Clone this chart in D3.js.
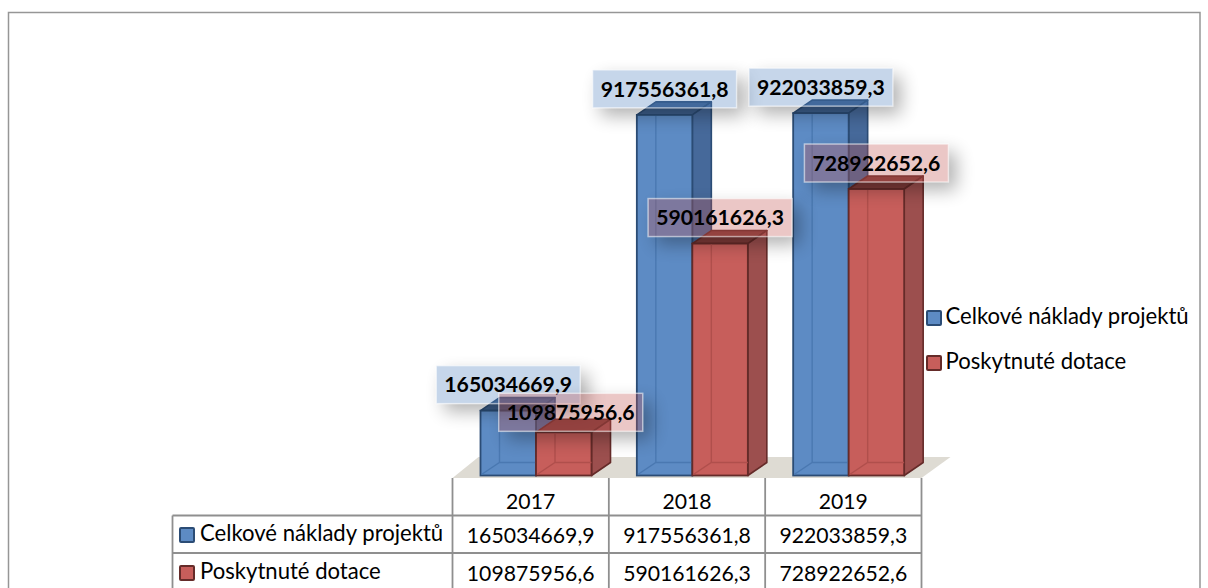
<!DOCTYPE html>
<html><head><meta charset="utf-8">
<script src="https://cdn.jsdelivr.net/npm/d3@7"></script>
<style>html,body{margin:0;padding:0;background:#fff;overflow:hidden}svg{display:block}text{font-family:Lato,"Open Sans",sans-serif;fill:#000}</style>
</head><body><div id="c"></div>
<script>
const categories = ["2017","2018","2019"];
const seriesNames = ["Celkové náklady projektů","Poskytnuté dotace"];
const costs = [165034669.9,917556361.8,922033859.3];
const grants = [109875956.6,590161626.3,728922652.6];
const costLabels = ["165034669,9","917556361,8","922033859,3"];
const grantLabels = ["109875956,6","590161626,3","728922652,6"];

const W=1208,H=588;
const svg=d3.select("#c").append("svg").attr("width",W).attr("height",H);
const numSize=21.2, boldSize=21.2, nameSize=22.1;
const palette=[
 {front:"#5d8bc4",side:"#46699a",top:"#3d5f8c",edge:"#2b4c75",inner:"#4a78b1",box:"rgba(79,129,189,.32)"},
 {front:"#c75e5b",side:"#9c4f4e",top:"#7f3b39",edge:"#652b29",inner:"#b04f4c",box:"rgba(192,80,77,.32)"}
];
const series=[{name:seriesNames[0],values:costs,labels:costLabels,c:palette[0]},
              {name:seriesNames[1],values:grants,labels:grantLabels,c:palette[1]}];

const x0=d3.scaleBand().domain(categories).range([452.5,921.5]);
const x1=d3.scaleBand().domain(seriesNames).range([28,139]);
const y=d3.scaleLinear().domain([0,1e9]).range([475.5,82.5]);
const dx=19,dy=-13;

const defs=svg.append("defs");
defs.append("filter").attr("id","blur").attr("x","-40%").attr("y","-120%").attr("width","180%").attr("height","340%")
  .append("feGaussianBlur").attr("stdDeviation",9);

// chart frame
svg.append("rect").attr("x",8.5).attr("y",12.5).attr("width",1191.5).attr("height",600)
  .attr("fill","#fff").attr("stroke","#969696").attr("stroke-width",1.5);

// floor
const fl=x0.range()[0], fr=x0.range()[1], fb=478, ft=457;
svg.append("polygon").attr("points",[[fl,fb],[fl+26,ft],[fr+29,ft],[fr,fb]].map(p=>p.join(",")).join(" "))
  .attr("fill","#dedbd3");

// bars
const bars=svg.append("g");
categories.forEach((cat,ci)=>{
  series.forEach((s,si)=>{
    const g=bars.append("g");
    const L=x0(cat)+x1(s.name), R=L+x1.bandwidth(), T=y(s.values[ci]), B=y(0);
    const poly=(pts,fill)=>g.append("polygon").attr("points",pts.map(p=>p.join(",")).join(" "))
      .attr("fill",fill).attr("stroke",s.c.edge).attr("stroke-width",1.6).attr("stroke-linejoin","round");
    poly([[L,T],[L+dx,T+dy],[R+dx,T+dy],[R,T]],s.c.top);
    poly([[R,T],[R+dx,T+dy],[R+dx,B+dy],[R,B]],s.c.side);
    g.append("rect").attr("x",L).attr("y",T).attr("width",R-L).attr("height",B-T)
      .attr("fill",s.c.front).attr("stroke",s.c.edge).attr("stroke-width",1.8);
    g.append("path").attr("d",`M${L+1},${B-1}L${L+dx},${B+dy}L${R},${B+dy}M${L+dx},${B+dy}L${L+dx},${T+1}`)
      .attr("fill","none").attr("stroke",s.c.inner).attr("stroke-width",1.4);
  });
});

// data labels
const boxW=144, boxH=38;
const labels=svg.append("g");
series.forEach((s,si)=>{
  categories.forEach((cat,ci)=>{
    const moved=si===1&&ci===0;
    const cx=x0(cat)+x1(s.name)+x1.bandwidth()/2+(moved?7:0);
    const cy=y(s.values[ci])-26+(moved?6:0);
    const bx=cx-boxW/2, by=cy-boxH/2, id=`out${si}${ci}`;
    defs.append("clipPath").attr("id",id).append("path").attr("clip-rule","evenodd")
      .attr("d",`M0,0H${W}V${H}H0ZM${bx},${by}h${boxW}v${boxH}h${-boxW}Z`);
    labels.append("g").attr("clip-path",`url(#${id})`).append("rect")
      .attr("x",bx+8).attr("y",by+8).attr("width",boxW).attr("height",boxH)
      .attr("fill","#000").attr("opacity",.3).attr("filter","url(#blur)");
    labels.append("rect").attr("x",bx).attr("y",by).attr("width",boxW).attr("height",boxH)
      .attr("fill",s.c.box).attr("stroke","rgba(255,255,255,.55)").attr("stroke-width",1.5);
    labels.append("text").attr("x",cx).attr("y",cy).attr("dy","0.36em").attr("text-anchor","middle")
      .attr("font-size",boldSize).attr("font-weight",700).text(s.labels[ci]);
  });
});

// legend
const swatch=(g,px,py,c)=>g.append("rect").attr("x",px).attr("y",py).attr("width",14).attr("height",14)
  .attr("rx",1).attr("fill",c.front).attr("stroke",c.edge).attr("stroke-width",2);
const legend=svg.append("g");
series.forEach(s=>{
  const ly=d3.scalePoint().domain(seriesNames).range([318,363])(s.name);
  swatch(legend,927,ly-7,s.c);
  legend.append("text").attr("x",945.5).attr("y",ly-1).attr("dy","0.33em").attr("font-size",nameSize).text(s.name);
});

// data table
const table=svg.append("g");
const hdr=[[fl,478,fl,H],[x0("2018"),478,x0("2018"),H],[x0("2019"),478,x0("2019"),H],[fr,478,fr,H],
           [172.5,515.5,172.5,H],[172.5,515.5,fr,515.5],[172.5,553,fr,553]];
table.selectAll("line").data(hdr).join("line")
  .attr("x1",d=>d[0]).attr("y1",d=>d[1]).attr("x2",d=>d[2]).attr("y2",d=>d[3])
  .attr("stroke","#8f8f8f").attr("stroke-width",1.8);
const rowCenter={head:501,[seriesNames[0]]:535,[seriesNames[1]]:573};
categories.forEach((cat,ci)=>{
  const cx=x0(cat)+x0.bandwidth()/2;
  table.append("text").attr("x",cx).attr("y",rowCenter.head).attr("dy","0.36em").attr("text-anchor","middle").attr("font-size",numSize).text(cat);
  series.forEach(s=>table.append("text").attr("x",cx).attr("y",rowCenter[s.name]).attr("dy","0.36em")
    .attr("text-anchor","middle").attr("font-size",numSize).text(s.labels[ci]));
});
series.forEach(s=>{
  swatch(table,180,rowCenter[s.name]-7,s.c);
  table.append("text").attr("x",200).attr("y",rowCenter[s.name]-1).attr("dy","0.33em").attr("font-size",nameSize).text(s.name);
});
</script></body></html>
